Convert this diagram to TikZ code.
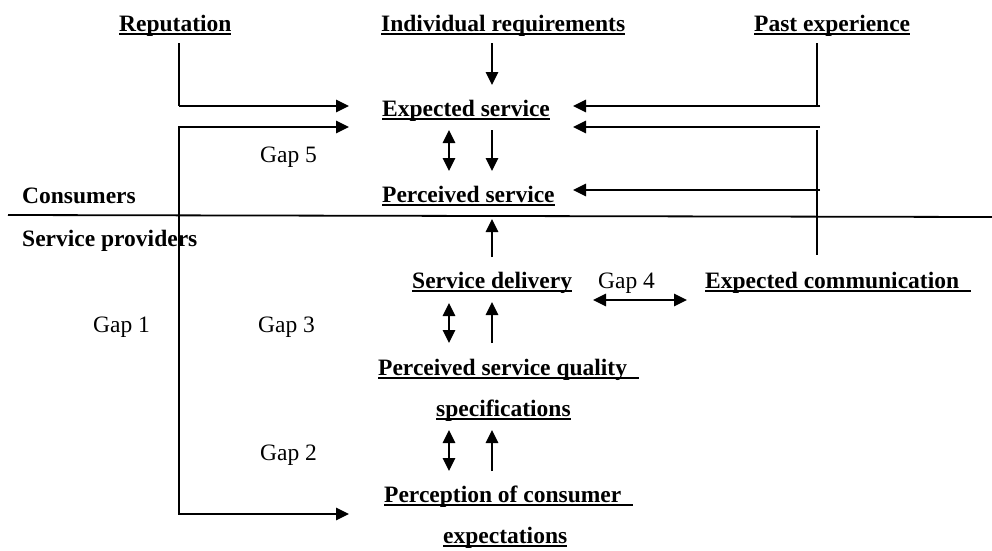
\documentclass[tikz,border=0pt]{standalone}
\usepackage{fontspec}
\setmainfont{Liberation Serif}
\usetikzlibrary{arrows.meta}
\newsavebox\ulbox
\newcommand\ulin[1]{\sbox\ulbox{#1}\rlap{\rule[-3.8pt]{\wd\ulbox}{1.8pt}}\usebox\ulbox}
\begin{document}
\begin{tikzpicture}[x=1pt,y=-1pt,
 lbl/.style={anchor=base west,inner sep=0pt,font=\fontsize{23.5}{27}\selectfont\bfseries},
 gaplbl/.style={anchor=base west,inner sep=0pt,font=\fontsize{23.5}{27}\selectfont},
 ln/.style={line width=1.3pt},
 arr/.style={ln,-{Triangle[length=13pt,width=12.5pt]}},
 darr/.style={ln,{Triangle[length=13pt,width=12.5pt]}-{Triangle[length=13pt,width=12.5pt]}}]
\useasboundingbox (0,0) rectangle (992,550);
% labels
\node[lbl] (rep) at (119,31) {\ulin{Reputation}};
\node[lbl] (ir) at (381,31) {\ulin{Individual requirements}};
\node[lbl] (pe) at (754,31) {\ulin{Past experience}};
\node[lbl] (es) at (382,116) {\ulin{Expected service}};
\node[lbl] (ps) at (382,202) {\ulin{Perceived service}};
\node[lbl] (cons) at (22,203) {Consumers};
\node[lbl] (sp) at (22,246) {Service providers};
\node[lbl] (sd) at (412,288) {\ulin{Service delivery}};
\node[lbl] (ec) at (705,288) {\ulin{Expected communication\ \ }};
\node[lbl] (psq) at (378,375) {\ulin{Perceived service quality\ \ }};
\node[lbl] (spec) at (436,416) {\ulin{specifications}};
\node[lbl] (pce) at (384,502) {\ulin{Perception of consumer\ \ }};
\node[lbl] (exp) at (443,543) {\ulin{expectations}};
\node[gaplbl] (g5) at (260,162) {Gap 5};
\node[gaplbl] (g4) at (598,288) {Gap 4};
\node[gaplbl] (g1) at (93,332) {Gap 1};
\node[gaplbl] (g3) at (258,332) {Gap 3};
\node[gaplbl] (g2) at (260,460) {Gap 2};
% junction coordinates
\coordinate (repT) at (179,43);
\coordinate (repC) at (179,106);
\coordinate (esL1) at (349,106);
\coordinate (esL2) at (349,127);
\coordinate (g1T) at (179,127);
\coordinate (g1B) at (179,514);
\coordinate (pceL) at (349,514);
\coordinate (irB) at (492,43);
\coordinate (esT) at (492,85);
\coordinate (peT) at (817,43);
\coordinate (peC) at (817,106);
\coordinate (ecT) at (817,255);
\coordinate (ecM) at (817,130);
% connectors
\draw[ln] (repT) -- (repC);
\draw[arr] (repC) -- (esL1);
\draw[darr] (esL2) -- (g1T) -- (g1B) -- (pceL);
\draw[arr] (irB) -- (esT);
\draw[darr] (449,130) -- (449,171);
\draw[arr] (492,130) -- (492,171);
\draw[ln] (peT) -- (peC);
\draw[arr,line width=1.6pt] (820,106) -- (573,106);
\draw[arr,line width=1.6pt] (820,127) -- (573,127);
\draw[arr,line width=1.6pt] (820,190) -- (573,190);
\draw[ln] (ecM) -- (ecT);
\draw[line width=1.8pt] (8,215) -- (992,217);
\draw[arr] (492,257) -- (492,219);
\draw[darr] (449,303) -- (449,343);
\draw[arr] (492,343) -- (492,302);
\draw[darr,line width=1.6pt] (593,300) -- (687,300);
\draw[darr] (449,430) -- (449,471);
\draw[arr] (492,471) -- (492,430);
\end{tikzpicture}
\end{document}
